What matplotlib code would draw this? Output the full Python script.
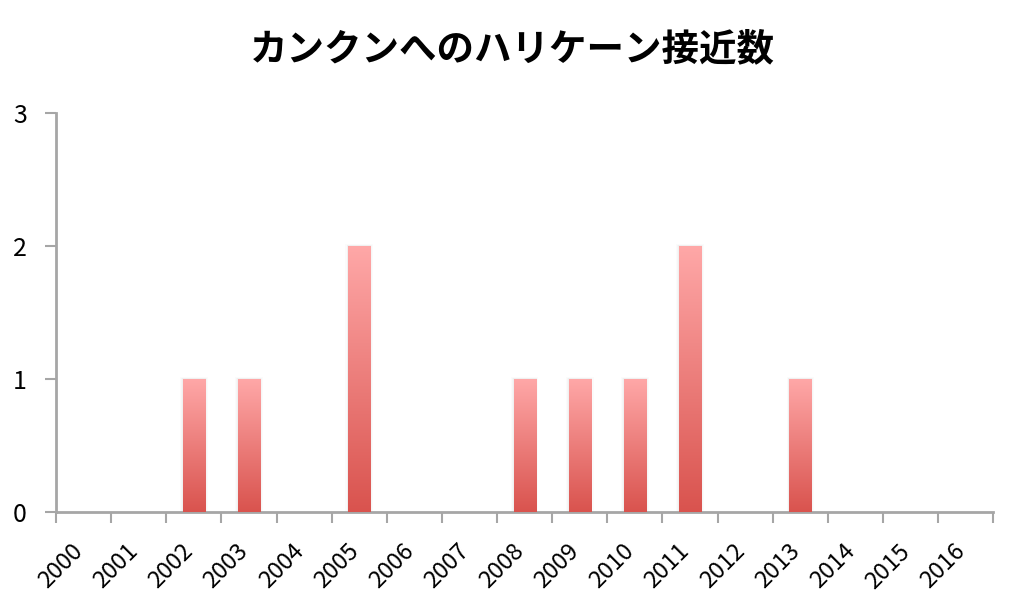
import matplotlib.pyplot as plt
import matplotlib.transforms as mtransforms
import numpy as np
from matplotlib.colors import LinearSegmentedColormap

plt.rcParams['font.family'] = ['Noto Sans CJK JP', 'DejaVu Sans']

# data
years = [str(y) for y in range(2000, 2017)]
counts = [0, 0, 1, 1, 0, 2, 0, 0, 1, 1, 1, 2, 0, 1, 0, 0, 0]
title = 'カンクンへのハリケーン接近数'

TOP_COLOR = '#ffa8a8'
BOTTOM_COLOR = '#d9534e'
AXIS_COLOR = '#a6a6a6'

fig = plt.figure(figsize=(10.24, 6.12), dpi=100)
ax = fig.add_axes([0.0547, 0.1634, 0.9153, 0.652])

x = np.arange(len(years))
bars = ax.bar(x, counts, width=0.4, color='none', edgecolor='none', zorder=3)

# gradient fill + soft shadow for each bar
cmap = LinearSegmentedColormap.from_list('grad', [BOTTOM_COLOR, TOP_COLOR])
grad = np.linspace(0, 1, 256).reshape(-1, 1)
for b in bars:
    h = b.get_height()
    if h <= 0:
        continue
    x0, w = b.get_x(), b.get_width()
    for k, a in [(0.05, 0.03), (0.03, 0.04), (0.015, 0.05)]:
        ax.add_patch(plt.Rectangle((x0 - k, 0), w + 2 * k, h + k * 0.3,
                                   facecolor='#888888', alpha=a,
                                   edgecolor='none', zorder=2))
    im = ax.imshow(grad, extent=(x0, x0 + w, 0, h), origin='lower',
                   cmap=cmap, aspect='auto', zorder=3)
    im.set_clip_path(b)

ax.set_xlim(-0.5, len(years) - 0.5)
ax.set_ylim(0, 3)
ax.set_yticks([0, 1, 2, 3])
ax.tick_params(axis='y', length=8, width=1.5, color=AXIS_COLOR,
               labelsize=18, pad=13)

# major ticks at category edges, labels at category centers
ax.set_xticks(np.arange(-0.5, len(years), 1.0))
ax.set_xticklabels([])
ax.tick_params(axis='x', which='major', length=8, width=1.5, color=AXIS_COLOR)
ax.set_xticks(x, minor=True)
ax.set_xticklabels(years, minor=True, rotation=45, ha='right', va='top',
                   fontsize=17)
ax.tick_params(axis='x', which='minor', length=0, pad=20)
shift = mtransforms.ScaledTranslation(4 / 100, 0, fig.dpi_scale_trans)
for lbl in ax.get_xticklabels(minor=True):
    lbl.set_transform(lbl.get_transform() + shift)

for side in ['top', 'right']:
    ax.spines[side].set_visible(False)
for side in ['left', 'bottom']:
    ax.spines[side].set_color(AXIS_COLOR)
    ax.spines[side].set_linewidth(2)

fig.text(0.5, 0.92, title, ha='center', va='center', fontsize=27,
         fontweight='bold')

plt.savefig('out.png', dpi=100)
